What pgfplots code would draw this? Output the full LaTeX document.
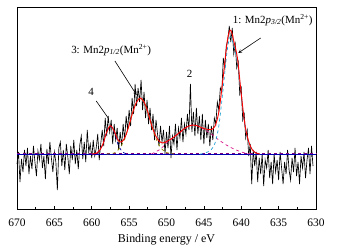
\documentclass[border=0pt]{standalone}
\usepackage{pgfplots}
\pgfplotsset{compat=1.18}
\usepackage{fontspec}
\setmainfont{Liberation Serif}
\begin{document}
\begin{tikzpicture}
\path[use as bounding box] (-17bp,-38.5bp) rectangle (320bp,209.5bp);
\begin{axis}[
 at={(0,0)}, anchor=south west,
 scale only axis, width=299bp, height=202.5bp,
 xmin=630, xmax=670, x dir=reverse,
 ymin=-55.5, ymax=147,
 xtick={630,635,...,670}, minor x tick num=1,
 ytick=\empty,
 xtick pos=lower, tick align=inside,
 major tick length=4bp, minor tick length=2.5bp,
 xlabel={Binding energy / eV},
 tick label style={font=\fontsize{11.5}{13}\selectfont},
 xticklabel style={yshift=-5.5bp},
 label style={font=\fontsize{12}{14}\selectfont},
 xlabel style={yshift=-1bp},
 /pgf/number format/assume math mode=true,
 /pgf/number format/1000 sep={},
 axis line style={line width=0.9bp},
 every tick/.style={black, line width=0.7bp},
 clip=false,
]
% raw spectrum
\addplot[black, line width=0.65bp] coordinates {
(670.0,-10)(669.8,2)(669.6,-28)(669.4,-5)(669.2,-18)(669.0,4)(668.8,-12)(668.6,6)(668.4,-20)(668.2,-2)
(668.0,-15)(667.8,8)(667.6,-8)(667.4,-22)(667.2,3)(667.0,-6)(666.8,10)(666.6,-14)(666.4,-2)(666.2,-25)
(666.0,5)(665.8,-10)(665.6,12)(665.4,-4)(665.2,-18)(665.0,2)(664.8,-8)(664.6,-36)(664.4,6)(664.2,12)
(664.0,-12)(663.8,4)(663.6,-16)(663.4,10)(663.2,-3)(663.0,-20)(662.8,8)(662.6,-6)(662.4,14)(662.2,-10)
(662.0,4)(661.8,-15)(661.6,9)(661.4,18)(661.2,-5)(661.0,12)(660.8,-8)(660.6,24)(660.4,2)(660.2,10)
(660.0,-4)(659.8,14)(659.6,-2)(659.4,6)(659.2,20)(659.0,-6)(658.8,10)(658.6,24)(658.4,8)(658.2,36)
(658.0,18)(657.8,38)(657.6,22)(657.4,34)(657.2,10)(657.0,30)(656.8,14)(656.6,26)(656.4,4)(656.2,22)
(656.0,8)(655.8,30)(655.6,14)(655.4,38)(655.2,24)(655.0,44)(654.8,28)(654.6,56)(654.4,40)(654.2,70)
(654.0,48)(653.8,66)(653.6,52)(653.4,74)(653.2,44)(653.0,62)(652.8,36)(652.6,54)(652.4,30)(652.2,46)
(652.0,24)(651.8,40)(651.6,14)(651.4,34)(651.2,20)(651.0,8)(650.8,28)(650.6,12)(650.4,24)(650.2,0)
(650.0,22)(649.8,6)(649.6,28)(649.4,-4)(649.2,18)(649.0,10)(648.8,30)(648.6,4)(648.4,26)(648.2,16)
(648.0,36)(647.8,12)(647.6,30)(647.4,20)(647.2,40)(647.0,24)(646.8,70)(646.6,22)(646.4,42)(646.2,18)
(646.0,46)(645.8,20)(645.6,38)(645.4,14)(645.2,40)(645.0,10)(644.8,34)(644.6,16)(644.4,30)(644.2,8)
(644.0,28)(643.8,14)(643.6,36)(643.4,30)(643.2,52)(643.0,44)(642.8,66)(642.6,62)(642.4,96)(642.2,86)
(642.0,108)(641.8,114)(641.6,128)(641.4,112)(641.2,126)(641.0,100)(640.8,110)(640.6,86)(640.4,92)(640.2,60)
(640.0,66)(639.8,34)(639.6,40)(639.4,16)(639.2,24)(639.0,-2)(638.8,10)(638.6,-30)(638.4,4)(638.2,-12)
(638.0,2)(637.8,-28)(637.6,-4)(637.4,-20)(637.2,0)(637.0,-32)(636.8,-6)(636.6,-14)(636.4,4)(636.2,-24)
(636.0,-8)(635.8,-30)(635.6,0)(635.4,-18)(635.2,-6)(635.0,-26)(634.8,2)(634.6,-14)(634.4,-30)(634.2,-8)
(634.0,-20)(633.8,4)(633.6,-16)(633.4,-26)(633.2,-4)(633.0,-18)(632.8,6)(632.6,-22)(632.4,-8)(632.2,-30)
(632.0,-2)(631.8,-14)(631.6,2)(631.4,-24)(631.2,-6)(631.0,6)(630.8,-20)(630.6,8)(630.4,-12)
};
% baseline
\addplot[blue!70!black, line width=0.9bp] coordinates {(670,0)(630,0)};
\addplot[violet, dashed, line width=0.7bp] coordinates {(670,0.5)(630,0.5)};
% peak 4
\addplot[blue!60!black, dashed, line width=0.7bp, smooth] coordinates {
(660,0)(659.5,0.5)(659,3)(658.5,10)(658,22)(657.5,28)(657,22)(656.5,10)(656,3)(655.5,0.5)(655,0)};
% peak 3
\addplot[olive, dashed, line width=0.7bp, smooth] coordinates {
(658,0)(657.5,0.3)(657,1)(656.5,4)(656,9)(655.5,17)(655,29)(654.5,42)(654,52)(653.5,56)(653,52)
(652.5,42)(652,29)(651.5,17)(651,9)(650.5,4)(650,1.5)(649.5,0.5)(649,0)};
% peak 2
\addplot[magenta!80!violet, dashed, line width=0.7bp, smooth] coordinates {
(652,0)(651.5,2)(651,4)(650.5,7)(650,11)(649.5,14)(649,17)(648.5,20)(648,23)(647.5,26)(647,28)
(646.5,29)(646,28.5)(645.5,27)(645,25)(644.5,22.5)(644,20)(643.5,17)(643,14)(642.5,11.5)(642,9)
(641.5,7)(641,5)(640.5,3.5)(640,2)(639.5,1)(639,0.3)(638.5,0)};
% peak 1
\addplot[cyan!70!teal, dashed, line width=0.7bp, smooth] coordinates {
(645.5,0)(645,0.5)(644.5,2)(644,4.5)(643.5,11)(643,28)(642.5,60)(642,96)(641.75,110)(641.5,117)
(641.25,115)(641,108)(640.5,92)(640,58)(639.5,28)(639,12)(638.5,4)(638,1)(637.5,0)};
% envelope fit
\addplot[red, line width=0.9bp, smooth] coordinates {
(660,0)(659.5,0.5)(659,3)(658.5,10)(658,22)(657.5,28.3)(657,23)(656.5,14)(656,12)(655.5,17.5)
(655,29)(654.5,42)(654,52)(653.5,56)(653,52)(652.5,42)(652,29)(651.5,19)(651,13)(650.5,11)
(650,12.5)(649.5,14.5)(649,17)(648.5,20)(648,23)(647.5,26)(647,28)(646.5,29)(646,28.5)(645.5,27)
(645,25.5)(644.5,24.5)(644,24.5)(643.5,28)(643,42)(642.5,71.5)(642,105)(641.75,118)(641.5,124)
(641.25,121)(641,113)(640.5,95.5)(640,60)(639.5,29)(639,12.3)(638.5,4)(638,1)(637.5,0)};
% annotations
\node[font=\fontsize{11}{13}\selectfont, anchor=center] at (axis cs:657.4,104)
 {3: Mn2\textit{p}\textsubscript{\textit{1/2}}(Mn\textsuperscript{2+})};
\draw[-stealth, line width=0.6bp] (axis cs:656.9,93) -- (axis cs:654.0,59);
\node[font=\fontsize{11}{13}\selectfont] at (axis cs:660.1,62) {4};
\draw[line width=0.6bp] (axis cs:659.4,53) -- (axis cs:657.8,36);
\node[font=\fontsize{11}{13}\selectfont] at (axis cs:646.9,80) {2};
\node[font=\fontsize{11}{13}\selectfont, anchor=west] at (axis cs:641.6,134)
 {1: Mn2\textit{p}\textsubscript{\textit{3/2}}(Mn\textsuperscript{2+})};
\draw[-stealth, line width=0.6bp] (axis cs:637.4,116) -- (axis cs:640.4,101);
\end{axis}
\end{tikzpicture}
\end{document}
